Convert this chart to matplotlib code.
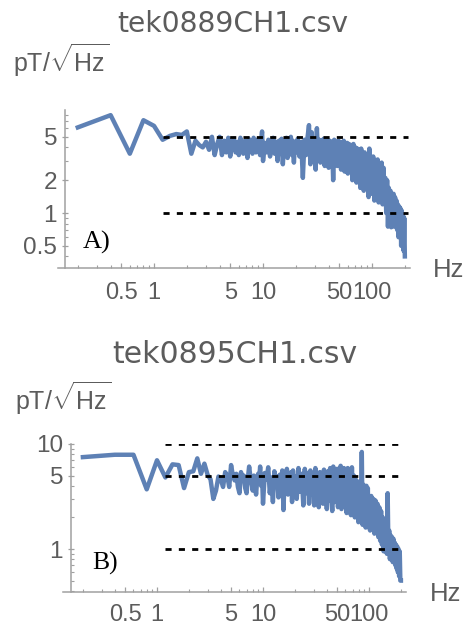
import matplotlib
matplotlib.use("Agg")
import matplotlib.pyplot as plt
from matplotlib.ticker import FixedLocator, FixedFormatter, NullFormatter

plt.rcParams['font.family'] = ['Liberation Sans', 'DejaVu Sans']
plt.rcParams['mathtext.fontset'] = 'custom'
plt.rcParams['mathtext.rm'] = 'Liberation Sans'
plt.rcParams['mathtext.it'] = 'Liberation Sans:italic'
plt.rcParams['mathtext.bf'] = 'Liberation Sans:bold'

# Frequency bins (Hz) shared by both spectra
freq_hz = [
    0.2, 0.4, 0.6, 0.8, 1.0, 1.2, 1.4, 1.6, 1.8, 2.0,
    2.2, 2.4, 2.6, 2.8, 3.0, 3.2, 3.4, 3.6, 3.8, 4.0,
    4.2, 4.4, 4.6, 4.8, 5.0,
    5.2, 5.4, 5.6, 5.8, 6.0, 6.2, 6.4, 6.6, 6.8, 7.0,
    7.2, 7.4, 7.6, 7.8, 8.0, 8.2, 8.4, 8.6, 8.8, 9.0,
    9.2, 9.4, 9.6, 9.8, 10.0,
    10.4, 10.8, 11.2, 11.6, 12.0, 12.4, 12.8, 13.2, 13.6, 14.0,
    14.4, 14.8, 15.2, 15.6, 16.0, 16.4, 16.8, 17.2, 17.6, 18.0,
    18.4, 18.8, 19.2, 19.6, 20.0,
    20.8, 21.6, 22.4, 23.2, 24.0, 24.8, 25.6, 26.4, 27.2, 28.0,
    28.8, 29.6, 30.4, 31.2, 32.0, 32.8, 33.6, 34.4, 35.2, 36.0,
    36.8, 37.6, 38.4, 39.2, 40.0,
    41, 42, 43, 44, 45, 46, 47, 48, 49, 50,
    51, 52, 53, 54, 55, 56, 57, 58, 59, 60,
    61.5, 63, 64.5, 66, 67.5, 69, 70.5, 72, 73.5, 75,
    76.5, 78, 79.5, 81, 82.5, 84, 85.5, 87, 88.5, 90,
    91.5, 93, 94.5, 96, 97.5, 99,
    102.5, 105, 107.5, 110, 112.5, 115, 117.5, 120, 122.5, 125,
    127.5, 130, 132.5, 135, 137.5, 140, 142.5, 145, 147.5, 150,
    152.5, 155, 157.5, 160, 162.5, 165, 167.5, 170, 172.5, 175,
    177.5, 180, 182.5, 185, 187.5, 190, 192.5, 195, 197.5, 200,
]

# Noise spectral density, pT/sqrt(Hz)
psd_0889 = [
    6.1, 7.9, 3.5, 7.1, 6.3, 4.7, 5.1, 5.3, 5.2, 5.6,
    3.5, 4.6, 4.2, 4.0, 4.5, 3.8, 5.0, 3.4, 4.3, 5.0,
    3.4, 4.6, 3.6, 4.9, 3.3,
    4.4, 4.8, 3.6, 4.5, 3.4, 4.9, 4.0, 3.5, 4.6, 4.2,
    3.2, 4.8, 3.9, 4.5, 3.5, 4.9, 4.1, 3.6, 4.7, 3.8,
    4.4, 3.4, 4.6, 5.6, 3.0,
    4.4, 3.6, 4.7, 3.3, 4.2, 4.9, 3.5, 4.5, 3.0, 4.6,
    3.9, 4.8, 2.8, 4.3, 3.7, 4.9, 3.2, 4.4, 3.8, 5.0,
    3.4, 4.6, 2.9, 4.4, 3.6,
    4.8, 3.3, 4.5, 2.1, 4.7, 3.4, 4.9, 6.4, 2.8, 5.5,
    3.0, 4.6, 2.5, 6.0, 3.2, 4.7, 2.9, 4.6, 3.5, 4.8,
    2.7, 4.4, 3.3, 4.7, 2.6,
    4.6, 3.1, 4.5, 2.0, 4.7, 3.3, 4.4, 2.7, 4.6, 3.0,
    4.5, 2.5, 4.3, 3.2, 4.6, 2.4, 4.2, 2.9, 4.4, 2.3,
    4.3, 2.6, 4.2, 2.0, 4.3, 2.5, 4.0, 1.9, 3.9, 2.3,
    3.8, 1.7, 3.9, 2.1, 3.5, 1.6, 3.6, 2.0, 3.4, 1.8,
    3.3, 1.4, 3.9, 1.7, 3.2, 1.5,
    3.3, 1.3, 3.0, 1.5, 3.1, 1.25, 2.8, 1.4, 2.9, 1.2,
    2.6, 1.3, 2.1, 1.0, 2.0, 0.75, 1.7, 0.9, 1.6, 0.74,
    1.5, 0.85, 1.5, 0.75, 1.4, 0.8, 1.3, 0.7, 1.2, 0.6,
    1.15, 0.62, 1.1, 0.5, 1.05, 0.55, 0.95, 0.45, 0.9, 0.4,
]

psd_0895 = [
    7.5, 7.9, 7.9, 3.7, 7.0, 4.8, 6.4, 6.3, 3.8, 5.4,
    5.5, 7.3, 5.2, 6.5, 5.1, 4.6, 3.0, 3.6, 4.9, 4.6,
    3.9, 5.4, 5.0, 3.9, 6.3,
    5.0, 4.5, 5.2, 3.9, 3.4, 5.4, 4.6, 5.0, 3.8, 3.4,
    4.7, 6.1, 4.9, 4.3, 3.6, 5.0, 4.4, 3.3, 4.5, 5.2,
    4.6, 6.1, 4.0, 5.0, 2.7,
    5.3, 4.6, 6.0, 3.4, 4.8, 2.8, 5.5, 4.2, 4.9, 3.1,
    5.1, 3.8, 5.6, 2.35, 5.0, 3.7, 5.8, 3.3, 4.9, 4.1,
    5.4, 2.8, 5.6, 3.6, 4.9,
    3.0, 5.9, 3.5, 5.2, 2.6, 5.8, 3.4, 5.3, 2.7, 5.6,
    3.6, 4.9, 2.6, 5.9, 3.4, 5.1, 2.5, 5.4, 3.3, 5.2,
    2.7, 5.7, 3.5, 5.0, 2.4,
    5.5, 2.9, 5.9, 3.4, 2.3, 6.1, 2.8, 5.3, 3.3, 5.8,
    2.5, 5.0, 3.1, 6.2, 2.4, 5.2, 3.2, 5.9, 2.6, 5.4,
    2.2, 5.9, 2.6, 5.1, 2.1, 6.0, 2.5, 5.0, 2.0, 4.6,
    2.3, 4.2, 1.8, 4.4, 2.0, 1.9, 8.4, 1.7, 4.1, 2.1,
    3.9, 1.6, 4.0, 1.9, 3.8, 1.7,
    1.5, 3.2, 1.7, 3.0, 1.4, 2.9, 1.6, 2.7, 1.3, 2.5,
    1.2, 2.3, 1.1, 2.0, 0.95, 1.7, 1.0, 1.6, 0.9, 3.4,
    0.95, 1.5, 0.8, 1.35, 0.85, 1.3, 0.75, 1.25, 0.8, 1.15,
    0.7, 1.1, 0.65, 1.05, 0.6, 1.0, 0.55, 0.95, 0.5, 0.5,
]

# Reference levels (pT/sqrt(Hz)) drawn as dashed guides
ref_0889 = [5, 1]
ref_0895 = [10, 5, 1]
ref_span_hz = [1.2, 215]

# Axis ticks
x_major = [0.5, 1, 5, 10, 50, 100]
x_labels = ['0.5', '1', '5', '10', '50', '100']
x_minor = [0.2, 0.3, 0.4, 0.6, 0.7, 0.8, 0.9, 2, 3, 4, 6, 7, 8, 9,
           20, 30, 40, 60, 70, 80, 90, 200]
y_major_0889 = [0.5, 1, 2, 5]
y_labels_0889 = ['0.5', '1', '2', '5']
y_minor_0889 = [0.4, 0.6, 0.7, 0.8, 0.9, 3, 4, 6, 7, 8]
y_major_0895 = [1, 5, 10]
y_labels_0895 = ['1', '5', '10']
y_minor_0895 = [0.4, 0.5, 0.6, 0.7, 0.8, 0.9, 2, 3, 4, 6, 7, 8, 9]

W, H = 467, 627
fig = plt.figure(figsize=(W / 100, H / 100), dpi=100)

TEXT = '#5c5c5c'
AXIS = '#a0a0a0'
BLUE = '#5e81b5'


def fx(px):
    return px / W


def fy(py):
    return 1 - py / H


def panel(box, xlim, ylim, yaxis_x, psd, refs, ymaj, ylab, ymin, xpad):
    left, top, right, bottom = box
    ax = fig.add_axes([fx(left), fy(bottom), (right - left) / W, (bottom - top) / H])
    ax.set_xscale('log')
    ax.set_yscale('log')
    ax.plot(freq_hz, psd, color=BLUE, lw=3.2, zorder=2,
            solid_joinstyle='round')
    for r in refs:
        ax.plot(ref_span_hz, [r, r], color='black', lw=2.0,
                dashes=(2.2, 2.6), zorder=3)
    ax.set_xlim(*xlim)
    ax.set_ylim(*ylim)
    ax.patch.set_alpha(0)
    for s in ('top', 'right'):
        ax.spines[s].set_visible(False)
    ax.spines['left'].set_position(('data', yaxis_x))
    for s in ('left', 'bottom'):
        ax.spines[s].set_color(AXIS)
        ax.spines[s].set_linewidth(1.1)

    ax.xaxis.set_major_locator(FixedLocator(x_major))
    ax.xaxis.set_major_formatter(FixedFormatter(x_labels))
    ax.xaxis.set_minor_locator(FixedLocator(x_minor))
    ax.xaxis.set_minor_formatter(NullFormatter())
    ax.yaxis.set_major_locator(FixedLocator(ymaj))
    ax.yaxis.set_major_formatter(FixedFormatter(ylab))
    ax.yaxis.set_minor_locator(FixedLocator(ymin))
    ax.yaxis.set_minor_formatter(NullFormatter())

    ax.tick_params(axis='x', which='major', direction='in', length=3.5,
                   width=0.9, color=AXIS, labelsize=17, labelcolor=TEXT,
                   pad=xpad)
    ax.tick_params(axis='x', which='minor', direction='in', length=2.2,
                   width=0.8, color=AXIS)
    ax.tick_params(axis='y', which='major', direction='inout', length=4.5,
                   width=0.9, color=AXIS, labelsize=17.5, labelcolor=TEXT,
                   pad=3.5)
    ax.tick_params(axis='y', which='minor', direction='in', length=2.2,
                   width=0.8, color=AXIS)
    return ax


# Panel A: tek0889CH1
panel((58, 110, 410, 268), (0.1316, 223), (0.313, 8.81), 0.1526,
      psd_0889, ref_0889, y_major_0889, y_labels_0889, y_minor_0889, 10)
fig.text(fx(232.5), fy(32), 'tek0889CH1.csv', ha='center', va='baseline',
         fontsize=20.3, family='DejaVu Sans', color=TEXT)
fig.text(fx(13), fy(72), r'pT/$\sqrt{\mathrm{Hz}}$', ha='left',
         va='baseline', fontsize=18, color=TEXT)
fig.text(fx(433), fy(277), 'Hz', ha='left', va='baseline', fontsize=18.5,
         color=TEXT)
fig.text(fx(83), fy(249), 'A)', ha='left', va='baseline', fontsize=19,
         family='Liberation Serif', color='black')

# Panel B: tek0895CH1
panel((63, 444, 406, 592), (0.1298, 223.4), (0.3895, 10.0), 0.1545,
      psd_0895, ref_0895, y_major_0895, y_labels_0895, y_minor_0895, 8.3)
fig.text(fx(234.5), fy(363), 'tek0895CH1.csv', ha='center', va='baseline',
         fontsize=21.5, family='DejaVu Sans', color=TEXT)
fig.text(fx(15), fy(410), r'pT/$\sqrt{\mathrm{Hz}}$', ha='left',
         va='baseline', fontsize=18, color=TEXT)
fig.text(fx(430), fy(601), 'Hz', ha='left', va='baseline', fontsize=18.5,
         color=TEXT)
fig.text(fx(92), fy(570), 'B)', ha='left', va='baseline', fontsize=18.5,
         family='Liberation Serif', color='black')

fig.savefig('out.png', dpi=100)
